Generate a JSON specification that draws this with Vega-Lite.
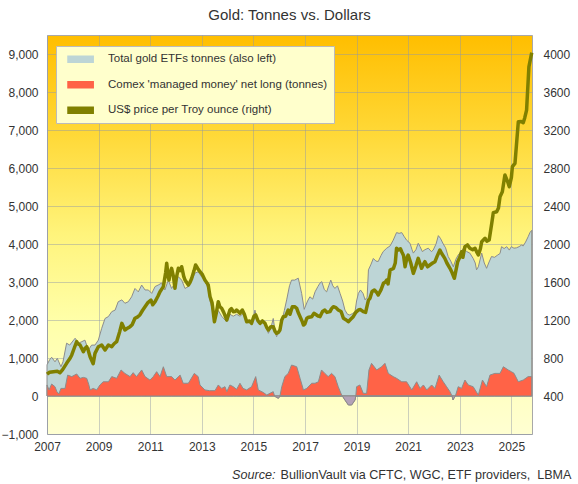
{
  "$schema": "https://vega.github.io/schema/vega-lite/v6.json",
  "width": 485,
  "height": 399,
  "autosize": {"type": "none"},
  "padding": {"left": 47, "top": 35, "right": 46, "bottom": 50},
  "background": "white",
  "title": {"text": "Gold: Tonnes vs. Dollars", "fontSize": 15, "fontWeight": "normal", "color": "#333333", "anchor": "middle", "offset": 12},
  "config": {
    "font": "Liberation Sans",
    "view": {
      "stroke": "#A8A8A8",
      "strokeWidth": 1,
      "fill": {"gradient": "linear", "x1": 0, "y1": 0, "x2": 0, "y2": 1,
        "stops": [
          {"offset": 0, "color": "#FFBE00"},
          {"offset": 0.25, "color": "#FFD938"},
          {"offset": 0.5, "color": "#FFF47C"},
          {"offset": 0.72, "color": "#FFFFAA"},
          {"offset": 1, "color": "#FFFFD2"}
        ]}
    },
    "axis": {"labelFontSize": 12, "labelColor": "#333333", "ticks": false, "domain": false, "zindex": 1, "gridColor": "#8E96A8", "gridOpacity": 0.45, "gridWidth": 1, "labelFlush": false}
  },
  "datasets": {
    "etf": [
      {"t": 2007.0, "v": 820}, {"t": 2007.1, "v": 950}, {"t": 2007.18, "v": 1020}, {"t": 2007.31, "v": 900}, {"t": 2007.4, "v": 990},
      {"t": 2007.54, "v": 770}, {"t": 2007.62, "v": 900}, {"t": 2007.76, "v": 1390}, {"t": 2007.88, "v": 1340}, {"t": 2008.09, "v": 1520},
      {"t": 2008.22, "v": 1390}, {"t": 2008.35, "v": 1430}, {"t": 2008.47, "v": 1470}, {"t": 2008.6, "v": 1210}, {"t": 2008.73, "v": 1340},
      {"t": 2008.86, "v": 1340}, {"t": 2008.99, "v": 1470}, {"t": 2009.12, "v": 1780}, {"t": 2009.25, "v": 2040}, {"t": 2009.38, "v": 2090},
      {"t": 2009.51, "v": 2220}, {"t": 2009.64, "v": 2260}, {"t": 2009.76, "v": 2480}, {"t": 2009.9, "v": 2530}, {"t": 2010.02, "v": 2440},
      {"t": 2010.15, "v": 2480}, {"t": 2010.28, "v": 2610}, {"t": 2010.41, "v": 2830}, {"t": 2010.54, "v": 2740}, {"t": 2010.67, "v": 2920},
      {"t": 2010.8, "v": 2790}, {"t": 2010.93, "v": 2790}, {"t": 2011.06, "v": 2700}, {"t": 2011.19, "v": 2880}, {"t": 2011.31, "v": 2920},
      {"t": 2011.44, "v": 2970}, {"t": 2011.57, "v": 2790}, {"t": 2011.7, "v": 3050}, {"t": 2011.83, "v": 2830}, {"t": 2011.96, "v": 2970},
      {"t": 2012.09, "v": 3140}, {"t": 2012.22, "v": 3050}, {"t": 2012.35, "v": 2830}, {"t": 2012.48, "v": 2880}, {"t": 2012.61, "v": 3050},
      {"t": 2012.73, "v": 3230}, {"t": 2012.86, "v": 3270}, {"t": 2012.99, "v": 3140}, {"t": 2013.12, "v": 3050}, {"t": 2013.2, "v": 2900},
      {"t": 2013.25, "v": 2830}, {"t": 2013.32, "v": 2500}, {"t": 2013.4, "v": 2300}, {"t": 2013.49, "v": 2000}, {"t": 2013.56, "v": 2150},
      {"t": 2013.64, "v": 2250}, {"t": 2013.77, "v": 2100}, {"t": 2013.9, "v": 2000}, {"t": 2013.97, "v": 1950}, {"t": 2014.09, "v": 2150},
      {"t": 2014.22, "v": 2100}, {"t": 2014.35, "v": 2150}, {"t": 2014.48, "v": 2100}, {"t": 2014.57, "v": 2150}, {"t": 2014.65, "v": 2100},
      {"t": 2014.74, "v": 1950}, {"t": 2014.85, "v": 1950}, {"t": 2014.93, "v": 1900}, {"t": 2015.0, "v": 2050}, {"t": 2015.06, "v": 2260},
      {"t": 2015.15, "v": 2000}, {"t": 2015.26, "v": 1950}, {"t": 2015.35, "v": 1950}, {"t": 2015.45, "v": 1900}, {"t": 2015.52, "v": 1800},
      {"t": 2015.58, "v": 1650}, {"t": 2015.68, "v": 1800}, {"t": 2015.77, "v": 2040}, {"t": 2015.84, "v": 1700}, {"t": 2015.9, "v": 1560},
      {"t": 2016.0, "v": 1750}, {"t": 2016.1, "v": 1950}, {"t": 2016.2, "v": 2250}, {"t": 2016.29, "v": 2530}, {"t": 2016.4, "v": 2900},
      {"t": 2016.48, "v": 3050}, {"t": 2016.6, "v": 3050}, {"t": 2016.74, "v": 3100}, {"t": 2016.87, "v": 2700}, {"t": 2016.97, "v": 2280},
      {"t": 2017.1, "v": 2500}, {"t": 2017.19, "v": 2610}, {"t": 2017.3, "v": 2550}, {"t": 2017.39, "v": 2740}, {"t": 2017.5, "v": 2880},
      {"t": 2017.58, "v": 2970}, {"t": 2017.65, "v": 3010}, {"t": 2017.75, "v": 2800}, {"t": 2017.84, "v": 2740}, {"t": 2017.92, "v": 2900},
      {"t": 2018.0, "v": 3050}, {"t": 2018.08, "v": 2900}, {"t": 2018.16, "v": 2830}, {"t": 2018.26, "v": 2900}, {"t": 2018.36, "v": 2700},
      {"t": 2018.46, "v": 2500}, {"t": 2018.55, "v": 2260}, {"t": 2018.65, "v": 2150}, {"t": 2018.74, "v": 2130}, {"t": 2018.84, "v": 2170},
      {"t": 2018.94, "v": 2220}, {"t": 2019.0, "v": 2500}, {"t": 2019.07, "v": 2700}, {"t": 2019.15, "v": 2790}, {"t": 2019.25, "v": 2700},
      {"t": 2019.33, "v": 2530}, {"t": 2019.41, "v": 2600}, {"t": 2019.46, "v": 3320}, {"t": 2019.55, "v": 3450}, {"t": 2019.65, "v": 3620},
      {"t": 2019.75, "v": 3550}, {"t": 2019.84, "v": 3540}, {"t": 2019.95, "v": 3700}, {"t": 2020.03, "v": 3800}, {"t": 2020.17, "v": 3890},
      {"t": 2020.3, "v": 3950}, {"t": 2020.42, "v": 4100}, {"t": 2020.55, "v": 4300}, {"t": 2020.65, "v": 4280}, {"t": 2020.75, "v": 4300},
      {"t": 2020.85, "v": 4190}, {"t": 2020.94, "v": 4100}, {"t": 2021.07, "v": 4020}, {"t": 2021.15, "v": 3850}, {"t": 2021.2, "v": 3760},
      {"t": 2021.3, "v": 3850}, {"t": 2021.39, "v": 4020}, {"t": 2021.46, "v": 3930}, {"t": 2021.55, "v": 3800}, {"t": 2021.65, "v": 3850},
      {"t": 2021.78, "v": 3890}, {"t": 2021.9, "v": 3800}, {"t": 2021.97, "v": 3840}, {"t": 2022.08, "v": 4000}, {"t": 2022.17, "v": 4220},
      {"t": 2022.25, "v": 4150}, {"t": 2022.36, "v": 4000}, {"t": 2022.45, "v": 3900}, {"t": 2022.55, "v": 3670}, {"t": 2022.65, "v": 3550},
      {"t": 2022.75, "v": 3400}, {"t": 2022.85, "v": 3600}, {"t": 2022.94, "v": 3710}, {"t": 2023.05, "v": 3800}, {"t": 2023.14, "v": 3890},
      {"t": 2023.27, "v": 3800}, {"t": 2023.39, "v": 3760}, {"t": 2023.52, "v": 3620}, {"t": 2023.6, "v": 3500}, {"t": 2023.65, "v": 3320},
      {"t": 2023.72, "v": 3400}, {"t": 2023.85, "v": 3760}, {"t": 2023.95, "v": 3500}, {"t": 2024.04, "v": 3360}, {"t": 2024.12, "v": 3500},
      {"t": 2024.23, "v": 3670}, {"t": 2024.35, "v": 3650}, {"t": 2024.45, "v": 3700}, {"t": 2024.56, "v": 3750}, {"t": 2024.62, "v": 3930},
      {"t": 2024.72, "v": 3880}, {"t": 2024.82, "v": 3930}, {"t": 2024.92, "v": 3840}, {"t": 2025.0, "v": 3930}, {"t": 2025.1, "v": 3890},
      {"t": 2025.2, "v": 3900}, {"t": 2025.3, "v": 3930}, {"t": 2025.39, "v": 3970}, {"t": 2025.46, "v": 3950}, {"t": 2025.55, "v": 4050},
      {"t": 2025.65, "v": 4190}, {"t": 2025.72, "v": 4300}, {"t": 2025.79, "v": 4360}
    ],
    "comex": [
      {"t": 2007.0, "v": 290}, {"t": 2007.08, "v": 160}, {"t": 2007.18, "v": 315}, {"t": 2007.31, "v": 245}, {"t": 2007.38, "v": 120},
      {"t": 2007.46, "v": 53}, {"t": 2007.54, "v": 200}, {"t": 2007.7, "v": 200}, {"t": 2007.8, "v": 550}, {"t": 2007.96, "v": 510},
      {"t": 2008.15, "v": 580}, {"t": 2008.28, "v": 465}, {"t": 2008.41, "v": 490}, {"t": 2008.54, "v": 465}, {"t": 2008.62, "v": 300},
      {"t": 2008.67, "v": 160}, {"t": 2008.79, "v": 200}, {"t": 2008.93, "v": 160}, {"t": 2009.05, "v": 290}, {"t": 2009.18, "v": 375},
      {"t": 2009.38, "v": 375}, {"t": 2009.51, "v": 510}, {"t": 2009.7, "v": 465}, {"t": 2009.87, "v": 685}, {"t": 2010.02, "v": 595},
      {"t": 2010.22, "v": 510}, {"t": 2010.34, "v": 615}, {"t": 2010.47, "v": 510}, {"t": 2010.67, "v": 685}, {"t": 2010.8, "v": 510},
      {"t": 2010.99, "v": 420}, {"t": 2011.12, "v": 510}, {"t": 2011.25, "v": 640}, {"t": 2011.38, "v": 510}, {"t": 2011.51, "v": 770},
      {"t": 2011.64, "v": 510}, {"t": 2011.83, "v": 510}, {"t": 2011.96, "v": 420}, {"t": 2012.16, "v": 550}, {"t": 2012.28, "v": 335},
      {"t": 2012.48, "v": 335}, {"t": 2012.71, "v": 595}, {"t": 2012.86, "v": 510}, {"t": 2012.93, "v": 290}, {"t": 2013.12, "v": 160},
      {"t": 2013.3, "v": 140}, {"t": 2013.51, "v": 140}, {"t": 2013.64, "v": 290}, {"t": 2013.77, "v": 200}, {"t": 2013.9, "v": 245},
      {"t": 2013.97, "v": 115}, {"t": 2014.09, "v": 290}, {"t": 2014.22, "v": 245}, {"t": 2014.35, "v": 175}, {"t": 2014.48, "v": 335},
      {"t": 2014.6, "v": 200}, {"t": 2014.74, "v": 160}, {"t": 2014.93, "v": 245}, {"t": 2015.09, "v": 510}, {"t": 2015.19, "v": 160},
      {"t": 2015.39, "v": 90}, {"t": 2015.52, "v": 25}, {"t": 2015.64, "v": 70}, {"t": 2015.77, "v": 115}, {"t": 2015.82, "v": 0},
      {"t": 2015.86, "v": -20}, {"t": 2015.97, "v": -60}, {"t": 2016.03, "v": 0}, {"t": 2016.1, "v": 245}, {"t": 2016.22, "v": 510},
      {"t": 2016.35, "v": 595}, {"t": 2016.48, "v": 815}, {"t": 2016.68, "v": 770}, {"t": 2016.81, "v": 465}, {"t": 2016.94, "v": 160},
      {"t": 2017.07, "v": 200}, {"t": 2017.26, "v": 335}, {"t": 2017.39, "v": 335}, {"t": 2017.52, "v": 375}, {"t": 2017.64, "v": 685},
      {"t": 2017.77, "v": 595}, {"t": 2017.9, "v": 510}, {"t": 2018.03, "v": 595}, {"t": 2018.16, "v": 510}, {"t": 2018.29, "v": 245},
      {"t": 2018.42, "v": 25}, {"t": 2018.45, "v": 0}, {"t": 2018.55, "v": -105}, {"t": 2018.68, "v": -235}, {"t": 2018.81, "v": -235},
      {"t": 2018.94, "v": -105}, {"t": 2018.97, "v": 0}, {"t": 2019.0, "v": 245}, {"t": 2019.13, "v": 290}, {"t": 2019.26, "v": 70},
      {"t": 2019.39, "v": 70}, {"t": 2019.48, "v": 685}, {"t": 2019.58, "v": 860}, {"t": 2019.78, "v": 685}, {"t": 2019.97, "v": 770},
      {"t": 2020.1, "v": 860}, {"t": 2020.23, "v": 595}, {"t": 2020.42, "v": 510}, {"t": 2020.55, "v": 465}, {"t": 2020.75, "v": 375},
      {"t": 2020.94, "v": 375}, {"t": 2021.14, "v": 160}, {"t": 2021.33, "v": 375}, {"t": 2021.46, "v": 200}, {"t": 2021.59, "v": 290},
      {"t": 2021.72, "v": 160}, {"t": 2021.91, "v": 290}, {"t": 2022.04, "v": 200}, {"t": 2022.2, "v": 550}, {"t": 2022.36, "v": 375},
      {"t": 2022.49, "v": 245}, {"t": 2022.62, "v": 115}, {"t": 2022.7, "v": 0}, {"t": 2022.74, "v": -105}, {"t": 2022.8, "v": -20},
      {"t": 2022.83, "v": 0}, {"t": 2022.94, "v": 245}, {"t": 2023.07, "v": 200}, {"t": 2023.2, "v": 420}, {"t": 2023.33, "v": 290},
      {"t": 2023.52, "v": 245}, {"t": 2023.65, "v": 100}, {"t": 2023.72, "v": 25}, {"t": 2023.88, "v": 420}, {"t": 2024.04, "v": 245},
      {"t": 2024.17, "v": 550}, {"t": 2024.36, "v": 595}, {"t": 2024.56, "v": 595}, {"t": 2024.69, "v": 770}, {"t": 2024.88, "v": 685},
      {"t": 2025.0, "v": 640}, {"t": 2025.1, "v": 600}, {"t": 2025.27, "v": 375}, {"t": 2025.46, "v": 420}, {"t": 2025.65, "v": 510},
      {"t": 2025.79, "v": 510}
    ],
    "neg": [
      {"t": 2015.82, "v": 0}, {"t": 2015.86, "v": -20}, {"t": 2015.97, "v": -60}, {"t": 2016.03, "v": 0},
      {"t": 2018.45, "v": 0}, {"t": 2018.55, "v": -105}, {"t": 2018.68, "v": -235}, {"t": 2018.81, "v": -235}, {"t": 2018.94, "v": -105}, {"t": 2018.97, "v": 0},
      {"t": 2022.7, "v": 0}, {"t": 2022.74, "v": -105}, {"t": 2022.8, "v": -20}, {"t": 2022.83, "v": 0}
    ],
    "price": [
      {"t": 2007.0, "p": 630}, {"t": 2007.1, "p": 650}, {"t": 2007.25, "p": 656}, {"t": 2007.4, "p": 660}, {"t": 2007.5, "p": 645},
      {"t": 2007.6, "p": 675}, {"t": 2007.76, "p": 744}, {"t": 2007.9, "p": 800}, {"t": 2007.96, "p": 832}, {"t": 2008.05, "p": 900},
      {"t": 2008.15, "p": 972}, {"t": 2008.2, "p": 950}, {"t": 2008.28, "p": 937}, {"t": 2008.41, "p": 866}, {"t": 2008.47, "p": 900},
      {"t": 2008.54, "p": 919}, {"t": 2008.6, "p": 880}, {"t": 2008.67, "p": 814}, {"t": 2008.79, "p": 740}, {"t": 2008.86, "p": 849},
      {"t": 2008.99, "p": 919}, {"t": 2009.12, "p": 937}, {"t": 2009.25, "p": 884}, {"t": 2009.38, "p": 937}, {"t": 2009.51, "p": 919},
      {"t": 2009.6, "p": 950}, {"t": 2009.7, "p": 972}, {"t": 2009.82, "p": 1080}, {"t": 2009.9, "p": 1165}, {"t": 2010.02, "p": 1095},
      {"t": 2010.1, "p": 1110}, {"t": 2010.22, "p": 1130}, {"t": 2010.3, "p": 1150}, {"t": 2010.41, "p": 1218}, {"t": 2010.5, "p": 1230},
      {"t": 2010.6, "p": 1253}, {"t": 2010.7, "p": 1300}, {"t": 2010.8, "p": 1340}, {"t": 2010.9, "p": 1380}, {"t": 2011.03, "p": 1410},
      {"t": 2011.1, "p": 1360}, {"t": 2011.19, "p": 1393}, {"t": 2011.3, "p": 1450}, {"t": 2011.38, "p": 1498}, {"t": 2011.51, "p": 1551},
      {"t": 2011.6, "p": 1700}, {"t": 2011.64, "p": 1797}, {"t": 2011.7, "p": 1650}, {"t": 2011.73, "p": 1621}, {"t": 2011.78, "p": 1700},
      {"t": 2011.83, "p": 1744}, {"t": 2011.9, "p": 1660}, {"t": 2011.96, "p": 1534}, {"t": 2012.02, "p": 1650}, {"t": 2012.09, "p": 1744},
      {"t": 2012.16, "p": 1720}, {"t": 2012.22, "p": 1761}, {"t": 2012.3, "p": 1660}, {"t": 2012.35, "p": 1621}, {"t": 2012.48, "p": 1568},
      {"t": 2012.55, "p": 1600}, {"t": 2012.61, "p": 1639}, {"t": 2012.7, "p": 1720}, {"t": 2012.76, "p": 1779}, {"t": 2012.85, "p": 1740},
      {"t": 2012.93, "p": 1709}, {"t": 2013.02, "p": 1680}, {"t": 2013.12, "p": 1621}, {"t": 2013.2, "p": 1590}, {"t": 2013.25, "p": 1568},
      {"t": 2013.32, "p": 1445}, {"t": 2013.4, "p": 1380}, {"t": 2013.49, "p": 1182}, {"t": 2013.56, "p": 1270}, {"t": 2013.64, "p": 1393},
      {"t": 2013.7, "p": 1340}, {"t": 2013.77, "p": 1323}, {"t": 2013.85, "p": 1280}, {"t": 2013.97, "p": 1200}, {"t": 2014.09, "p": 1305},
      {"t": 2014.15, "p": 1320}, {"t": 2014.22, "p": 1288}, {"t": 2014.3, "p": 1290}, {"t": 2014.35, "p": 1305}, {"t": 2014.48, "p": 1270},
      {"t": 2014.57, "p": 1305}, {"t": 2014.65, "p": 1260}, {"t": 2014.74, "p": 1182}, {"t": 2014.85, "p": 1190}, {"t": 2014.93, "p": 1165},
      {"t": 2015.02, "p": 1240}, {"t": 2015.09, "p": 1253}, {"t": 2015.18, "p": 1190}, {"t": 2015.26, "p": 1165}, {"t": 2015.35, "p": 1190},
      {"t": 2015.45, "p": 1165}, {"t": 2015.52, "p": 1120}, {"t": 2015.58, "p": 1095}, {"t": 2015.68, "p": 1130}, {"t": 2015.77, "p": 1130},
      {"t": 2015.84, "p": 1080}, {"t": 2015.9, "p": 1060}, {"t": 2015.97, "p": 1070}, {"t": 2016.03, "p": 1095}, {"t": 2016.1, "p": 1200},
      {"t": 2016.16, "p": 1235}, {"t": 2016.25, "p": 1240}, {"t": 2016.35, "p": 1305}, {"t": 2016.42, "p": 1260}, {"t": 2016.51, "p": 1340},
      {"t": 2016.6, "p": 1340}, {"t": 2016.68, "p": 1323}, {"t": 2016.75, "p": 1270}, {"t": 2016.81, "p": 1235}, {"t": 2016.9, "p": 1180},
      {"t": 2016.94, "p": 1147}, {"t": 2017.0, "p": 1160}, {"t": 2017.07, "p": 1218}, {"t": 2017.15, "p": 1230}, {"t": 2017.26, "p": 1235},
      {"t": 2017.35, "p": 1270}, {"t": 2017.45, "p": 1253}, {"t": 2017.52, "p": 1240}, {"t": 2017.58, "p": 1235}, {"t": 2017.68, "p": 1290},
      {"t": 2017.77, "p": 1305}, {"t": 2017.85, "p": 1280}, {"t": 2017.97, "p": 1288}, {"t": 2018.03, "p": 1320}, {"t": 2018.1, "p": 1340},
      {"t": 2018.2, "p": 1330}, {"t": 2018.29, "p": 1305}, {"t": 2018.4, "p": 1290}, {"t": 2018.49, "p": 1218}, {"t": 2018.6, "p": 1200},
      {"t": 2018.68, "p": 1182}, {"t": 2018.78, "p": 1210}, {"t": 2018.87, "p": 1235}, {"t": 2018.97, "p": 1280}, {"t": 2019.07, "p": 1305},
      {"t": 2019.15, "p": 1310}, {"t": 2019.26, "p": 1288}, {"t": 2019.35, "p": 1280}, {"t": 2019.46, "p": 1410}, {"t": 2019.52, "p": 1428},
      {"t": 2019.6, "p": 1500}, {"t": 2019.69, "p": 1516}, {"t": 2019.78, "p": 1490}, {"t": 2019.84, "p": 1463}, {"t": 2019.95, "p": 1520},
      {"t": 2020.04, "p": 1586}, {"t": 2020.12, "p": 1600}, {"t": 2020.17, "p": 1621}, {"t": 2020.22, "p": 1580}, {"t": 2020.3, "p": 1726},
      {"t": 2020.43, "p": 1744}, {"t": 2020.5, "p": 1800}, {"t": 2020.55, "p": 1955}, {"t": 2020.62, "p": 1937}, {"t": 2020.7, "p": 1950},
      {"t": 2020.75, "p": 1919}, {"t": 2020.82, "p": 1880}, {"t": 2020.88, "p": 1761}, {"t": 2020.95, "p": 1850}, {"t": 2021.0, "p": 1884},
      {"t": 2021.1, "p": 1800}, {"t": 2021.2, "p": 1691}, {"t": 2021.3, "p": 1770}, {"t": 2021.39, "p": 1849}, {"t": 2021.45, "p": 1800},
      {"t": 2021.52, "p": 1744}, {"t": 2021.6, "p": 1790}, {"t": 2021.65, "p": 1814}, {"t": 2021.75, "p": 1760}, {"t": 2021.84, "p": 1779},
      {"t": 2021.95, "p": 1800}, {"t": 2022.04, "p": 1814}, {"t": 2022.12, "p": 1870}, {"t": 2022.23, "p": 1937}, {"t": 2022.3, "p": 1900},
      {"t": 2022.42, "p": 1849}, {"t": 2022.5, "p": 1800}, {"t": 2022.62, "p": 1744}, {"t": 2022.7, "p": 1700}, {"t": 2022.79, "p": 1639},
      {"t": 2022.85, "p": 1720}, {"t": 2022.92, "p": 1814}, {"t": 2023.0, "p": 1860}, {"t": 2023.07, "p": 1919}, {"t": 2023.12, "p": 1860},
      {"t": 2023.2, "p": 1972}, {"t": 2023.3, "p": 1990}, {"t": 2023.39, "p": 1955}, {"t": 2023.5, "p": 1940}, {"t": 2023.59, "p": 1955},
      {"t": 2023.65, "p": 1920}, {"t": 2023.72, "p": 1884}, {"t": 2023.8, "p": 1950}, {"t": 2023.85, "p": 2024}, {"t": 2023.98, "p": 2060},
      {"t": 2024.05, "p": 2030}, {"t": 2024.14, "p": 2042}, {"t": 2024.24, "p": 2218}, {"t": 2024.3, "p": 2330}, {"t": 2024.43, "p": 2340},
      {"t": 2024.5, "p": 2380}, {"t": 2024.56, "p": 2498}, {"t": 2024.65, "p": 2550}, {"t": 2024.75, "p": 2726}, {"t": 2024.85, "p": 2660},
      {"t": 2024.92, "p": 2603}, {"t": 2025.0, "p": 2700}, {"t": 2025.04, "p": 2814}, {"t": 2025.14, "p": 2849}, {"t": 2025.27, "p": 3288},
      {"t": 2025.38, "p": 3290}, {"t": 2025.46, "p": 3277}, {"t": 2025.52, "p": 3330}, {"t": 2025.59, "p": 3410}, {"t": 2025.68, "p": 3866},
      {"t": 2025.79, "p": 4014}
    ]
  },
  "layer": [
    {
      "layer": [
        {
          "data": {"name": "etf"},
          "mark": {"type": "area", "stroke": "#8C8C8C", "strokeWidth": 1, "opacity": 1, "fillOpacity": 1},
          "encoding": {
            "x": {"field": "t", "type": "quantitative"},
            "y": {"field": "v", "type": "quantitative"},
            "color": {
              "datum": "Total gold ETFs tonnes (also left)",
              "type": "nominal",
              "scale": {
                "domain": ["Total gold ETFs tonnes (also left)", "Comex 'managed money' net long (tonnes)", "US$ price per Troy ounce (right)"],
                "range": ["#BDD5D6", "#FF6347", "#808000"]
              },
              "legend": {
                "title": null,
                "orient": "none",
                "legendX": 9,
                "legendY": 11,
                "fillColor": "#FFFFCC",
                "strokeColor": "#BBBBBB",
                "padding": 6.3,
                "symbolSize": 144,
                "symbolType": "M-2.1,-0.5H2.1V0.5H-2.1Z",
                "symbolOffset": 11.3,
                "labelOffset": 20.4,
                "rowPadding": 12.5,
                "labelFontSize": 11.5,
                "labelColor": "#333333",
                "labelLimit": 400,
                "encode": {
                  "symbols": {
                    "update": {
                      "shape": {"signal": "datum.value === 'US$ price per Troy ounce (right)' ? 'M-2.1,-0.25H2.1V0.25H-2.1Z' : 'M-2.1,-0.5H2.1V0.5H-2.1Z'"},
                      "fill": {"signal": "scale('color', datum.value)"},
                      "stroke": {"signal": "datum.value === 'US$ price per Troy ounce (right)' ? scale('color', datum.value) : '#777777'"},
                      "strokeWidth": {"value": 1},
                      "opacity": {"value": 1},
                      "fillOpacity": {"value": 1},
                      "strokeOpacity": {"value": 1}
                    }
                  }
                }
              }
            }
          }
        },
        {
          "data": {"name": "comex"},
          "mark": {"type": "area", "stroke": "#8C8C8C", "strokeWidth": 1, "opacity": 1, "fillOpacity": 1},
          "encoding": {
            "x": {"field": "t", "type": "quantitative"},
            "y": {"field": "v", "type": "quantitative"},
            "color": {"datum": "Comex 'managed money' net long (tonnes)", "type": "nominal"}
          }
        },
        {
          "data": {"name": "neg"},
          "mark": {"type": "area", "color": "#B3A2B8", "stroke": "#8C8C8C", "strokeWidth": 1, "opacity": 1},
          "encoding": {
            "x": {"field": "t", "type": "quantitative"},
            "y": {"field": "v", "type": "quantitative"}
          }
        }
      ],
      "encoding": {
        "x": {
          "field": "t", "type": "quantitative",
          "scale": {"domain": [2007, 2025.8], "nice": false, "zero": false},
          "axis": {
            "values": [2007, 2009, 2011, 2013, 2015, 2017, 2019, 2021, 2023, 2025],
            "format": "d", "labelPadding": 7, "grid": true,
            "title": "BullionVault via CFTC, WGC, ETF providers, \u00a0LBMA",
            "titleFontSize": 12.6, "titleFontWeight": "normal", "titleColor": "#333333",
            "titleAnchor": "end", "titleAlign": "right", "titleBaseline": "alphabetic",
            "titleX": 524, "titleY": 44
          }
        },
        "y": {
          "field": "v", "type": "quantitative",
          "scale": {"domain": [-1000, 9500], "nice": false, "zero": false},
          "axis": {
            "values": [-1000, 0, 1000, 2000, 3000, 4000, 5000, 6000, 7000, 8000, 9000],
            "format": ",.0f", "labelPadding": 9, "grid": true,
            "title": "Source:",
            "titleFontSize": 12.6, "titleFontWeight": "normal", "titleFontStyle": "italic", "titleColor": "#333333",
            "titleAngle": 0, "titleAlign": "right", "titleBaseline": "alphabetic",
            "titleX": 228, "titleY": 443
          }
        }
      }
    },
    {
      "data": {"name": "price"},
      "mark": {"type": "line", "strokeWidth": 3.5, "strokeJoin": "round"},
      "encoding": {
        "x": {"field": "t", "type": "quantitative"},
        "y": {
          "field": "p", "type": "quantitative",
          "scale": {"domain": [0, 4200], "nice": false, "zero": false},
          "axis": {
            "orient": "right",
            "values": [400, 800, 1200, 1600, 2000, 2400, 2800, 3200, 3600, 4000],
            "format": "d", "labelPadding": 11, "grid": false, "title": null
          }
        },
        "color": {"datum": "US$ price per Troy ounce (right)", "type": "nominal"}
      }
    }
  ],
  "resolve": {"scale": {"y": "independent"}}
}
